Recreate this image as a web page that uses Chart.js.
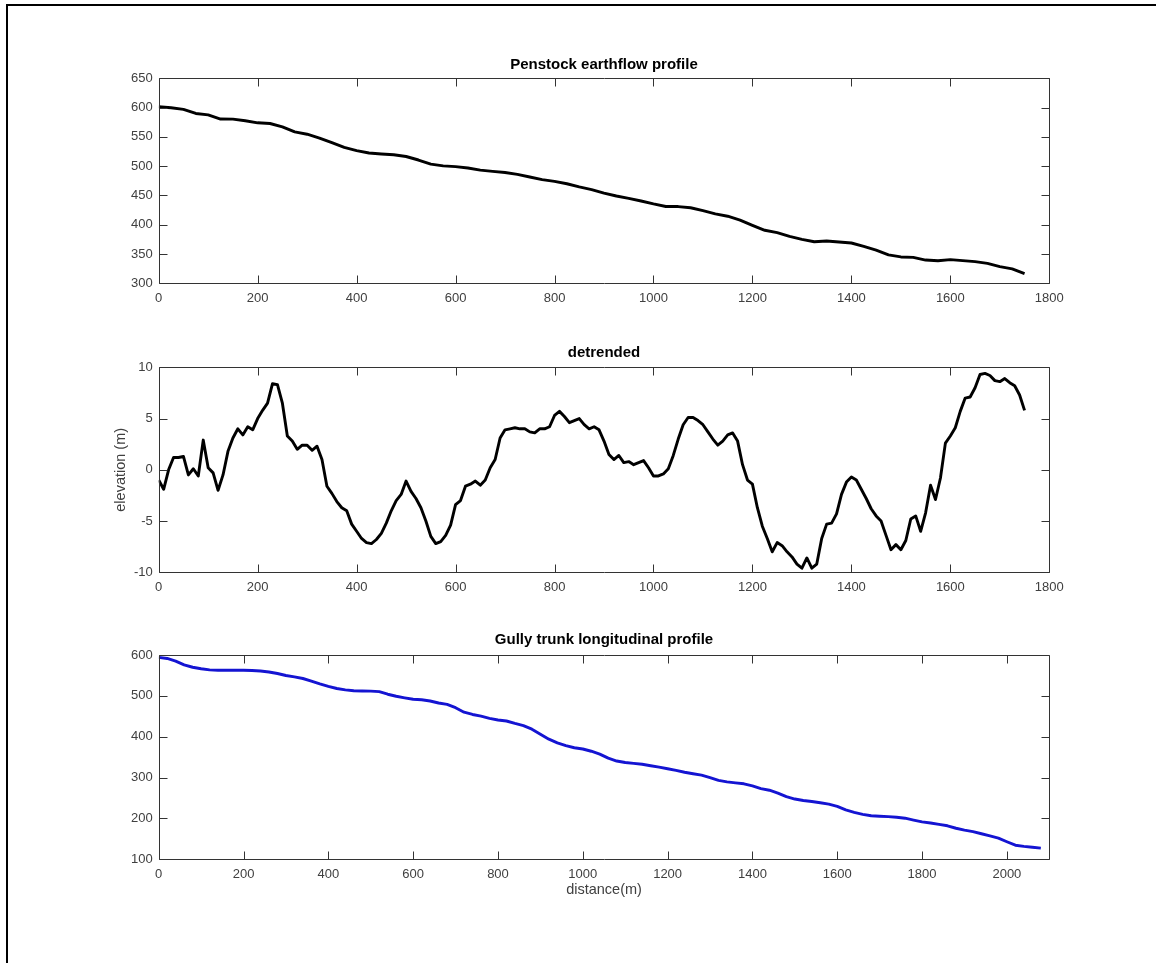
<!DOCTYPE html>
<html lang="en">
<head>
    <meta charset="UTF-8">
    <title>Penstock earthflow profile</title>
    <script src="https://cdn.jsdelivr.net/npm/chart.js"></script>
    <style>
        html, body { margin: 0; width: 1156px; height: 963px; overflow: hidden; background: #fff; }
        #moldura { position: absolute; left: 6px; top: 4px; right: 0; bottom: 0; border-top: 2px solid #000; border-left: 2px solid #000; }
        canvas { position: absolute; left: 0; }
    </style>
</head>
<body>
    <div id="moldura"></div>
    <canvas id="grafico1" width="1156" height="330" style="top:0px"></canvas>
    <canvas id="grafico2" width="1156" height="290" style="top:320px"></canvas>
    <canvas id="grafico3" width="1156" height="353" style="top:610px"></canvas>
</body>
</html>

<script>

// distance step (m) between readings of each series
var penstockStep = 25;
var detrendStep = 10;
var gullyStep = 20;

// Penstock earthflow profile, elevation every 25 m
var penstockElev = [
    601.5, 599.8, 597, 590, 587.5, 580.5, 580.3, 577.5, 574, 572.8,
    567, 558.5, 554.5, 548, 540, 532, 526.5, 522.5, 520.8, 519.5,
    516.5, 510.5, 503.5, 500.4, 499.2, 496.8, 493.2, 491, 489.2, 486,
    481.5, 477, 474, 470, 464.5, 460, 454, 449, 445, 440.5,
    435.5, 431.2, 431, 429, 424, 418.5, 414.5, 408, 399, 390.5,
    386.5, 380, 375, 371, 372.3, 370.5, 368.8, 363, 356.5, 348.5,
    345, 344.2, 339.7, 338.5, 340.5, 338.8, 337, 334, 328.5, 324.5,
    316.5
];

// detrended elevation every 10 m
var detrended = [
    -1.0, -1.9, 0.0, 1.2, 1.2, 1.3, -0.5, 0.1, -0.6, 2.9,
    0.2, -0.3, -2.0, -0.5, 1.8, 3.1, 4.0, 3.4, 4.2, 3.9,
    5.0, 5.8, 6.5, 8.4, 8.3, 6.5, 3.3, 2.8, 2.0, 2.4,
    2.4, 1.9, 2.3, 1.0, -1.6, -2.3, -3.1, -3.7, -4.0, -5.3,
    -6.0, -6.7, -7.1, -7.2, -6.8, -6.2, -5.2, -4.0, -3.0, -2.4,
    -1.1, -2.1, -2.8, -3.7, -5.0, -6.5, -7.2, -7.0, -6.4, -5.4,
    -3.4, -3.0, -1.6, -1.4, -1.1, -1.5, -1.0, 0.2, 1.0, 3.1,
    3.9, 4.0, 4.1, 4.0, 4.0, 3.7, 3.6, 4.0, 4.0, 4.2,
    5.3, 5.7, 5.2, 4.6, 4.8, 5.0, 4.4, 4.0, 4.2, 3.9,
    2.8, 1.5, 1.0, 1.4, 0.7, 0.8, 0.5, 0.7, 0.9, 0.2,
    -0.6, -0.6, -0.4, 0.1, 1.4, 3.0, 4.4, 5.1, 5.1, 4.8,
    4.4, 3.7, 3.0, 2.4, 2.8, 3.4, 3.6, 2.8, 0.5, -1.0,
    -1.4, -3.7, -5.5, -6.7, -8.0, -7.1, -7.4, -8.0, -8.5, -9.2,
    -9.6, -8.6, -9.6, -9.2, -6.7, -5.3, -5.2, -4.3, -2.4, -1.2,
    -0.7, -1.0, -1.9, -2.8, -3.8, -4.5, -5.0, -6.4, -7.8, -7.3,
    -7.8, -6.9, -4.8, -4.5, -6.0, -4.2, -1.5, -2.9, -0.8, 2.6,
    3.3, 4.1, 5.7, 7.0, 7.1, 8.0, 9.3, 9.4, 9.2, 8.7,
    8.6, 8.9, 8.5, 8.2, 7.3, 5.8
];

// Gully trunk longitudinal profile, elevation every 20 m
var gullyElev = [
    594.3, 591.5, 585, 576, 570, 566.3, 563.5, 562.8, 562.5, 562.5,
    562.5, 562, 560.8, 558.5, 554.7, 549.8, 546.5, 542.5, 536.3, 529.5,
    523.3, 518, 514.7, 512.6, 512, 511.6, 510.4, 504, 499, 495.2,
    491.6, 490.5, 487.5, 482.5, 479, 471, 460, 454.5, 450.5, 445,
    441, 438.5, 432.5, 427, 418.5, 406, 394, 385, 378, 373,
    370, 364.5, 357.5, 347.5, 340.5, 337, 334.8, 332.5, 329, 325.5,
    321.5, 317.5, 313, 309.5, 306, 300, 293.2, 289.5, 287, 284.8,
    279.5, 273, 269, 262, 253.5, 247.5, 244, 241.5, 238.5, 235,
    229.5, 221, 215, 210, 206.5, 205.5, 204.5, 202.8, 200.6, 196,
    191.5, 188.8, 185.5, 182, 176, 171.5, 167.8, 162.5, 157.5, 152,
    143, 134.5, 131.5, 129.5, 127.3
];

// tick labels
var xTicks1800 = [0, 200, 400, 600, 800, 1000, 1200, 1400, 1600, 1800];
var xTicks2100 = [0, 200, 400, 600, 800, 1000, 1200, 1400, 1600, 1800, 2000];
var yTicksPenstock = [300, 350, 400, 450, 500, 550, 600, 650];
var yTicksDetrend = [-10, -5, 0, 5, 10];
var yTicksGully = [100, 200, 300, 400, 500, 600];

Chart.defaults.font.family = '"Liberation Sans", Arial, Helvetica, sans-serif';

var corEixo = '#333333';
var corTexto = '#404040';

// box around the plot area with inward ticks on all four sides
var caixaEixos = {
    id: 'caixaEixos',
    afterDatasetsDraw: function (chart) {
        var ctx = chart.ctx;
        var a = chart.chartArea;
        var sx = chart.scales.x;
        var sy = chart.scales.y;
        var l = Math.round(a.left) + 0.5, r = Math.round(a.right) + 0.5;
        var t = Math.round(a.top) + 0.5, b = Math.round(a.bottom) + 0.5;
        var tam = 8;
        ctx.save();
        ctx.strokeStyle = corEixo;
        ctx.lineWidth = 1;
        ctx.beginPath();
        ctx.rect(l, t, r - l, b - t);
        sx.ticks.forEach(function (tk) {
            var px = Math.round(sx.getPixelForValue(tk.value)) + 0.5;
            ctx.moveTo(px, b); ctx.lineTo(px, b - tam);
            ctx.moveTo(px, t); ctx.lineTo(px, t + tam);
        });
        sy.ticks.forEach(function (tk) {
            var py = Math.round(sy.getPixelForValue(tk.value)) + 0.5;
            ctx.moveTo(l, py); ctx.lineTo(l + tam, py);
            ctx.moveTo(r, py); ctx.lineTo(r - tam, py);
        });
        ctx.stroke();
        ctx.restore();
    }
};

function montarPontos(valores, passo) {
    return valores.map(function (v, i) { return { x: i * passo, y: v }; });
}

function criarGrafico(idCanvas, cfg) {
    var config = {
        type: 'line',
        data: {
            datasets: [{
                data: montarPontos(cfg.valores, cfg.passo),
                borderColor: cfg.cor,
                borderWidth: 2.9,
                borderJoinStyle: 'round',
                pointRadius: 0,
                tension: 0,
                fill: false
            }]
        },
        options: {
            responsive: false,
            animation: false,
            events: [],
            layout: { padding: { left: 0, right: 106.7, top: cfg.padTopo, bottom: cfg.padBase } },
            plugins: {
                legend: { display: false },
                tooltip: { enabled: false },
                title: {
                    display: true,
                    text: cfg.titulo,
                    fullSize: false,
                    color: '#000',
                    font: { size: 15, weight: 'bold' },
                    padding: { top: 0, bottom: cfg.padTitulo }
                }
            },
            scales: {
                x: {
                    type: 'linear',
                    min: cfg.xMin,
                    max: cfg.xMax,
                    afterBuildTicks: function (s) { s.ticks = cfg.xTicks.map(function (v) { return { value: v }; }); },
                    afterFit: function (s) { s.height = cfg.alturaX; },
                    grid: { display: false, drawTicks: false },
                    border: { display: false },
                    ticks: {
                        color: corTexto, font: { size: 13 }, padding: 7,
                        maxRotation: 0, autoSkip: false,
                        callback: function (v) { return String(v); }
                    },
                    title: cfg.tituloX ? {
                        display: true, text: cfg.tituloX, color: corTexto,
                        font: { size: 14.5 }, padding: { top: 0, bottom: 5.6 }
                    } : { display: false }
                },
                y: {
                    type: 'linear',
                    min: cfg.yMin,
                    max: cfg.yMax,
                    afterBuildTicks: function (s) { s.ticks = cfg.yTicks.map(function (v) { return { value: v }; }); },
                    afterFit: function (s) { s.width = 158.7; },
                    grid: { display: false, drawTicks: false },
                    border: { display: false },
                    ticks: {
                        color: corTexto, font: { size: 13 }, padding: 6,
                        autoSkip: false,
                        callback: function (v) { return String(v); }
                    },
                    title: cfg.tituloY ? {
                        display: true, text: cfg.tituloY, color: corTexto,
                        font: { size: 14.5 }, padding: { top: 112, bottom: 0 }
                    } : { display: false }
                }
            }
        },
        plugins: [caixaEixos]
    };
    return new Chart(document.getElementById(idCanvas), config);
}

criarGrafico('grafico1', {
    valores: penstockElev, passo: penstockStep, cor: '#000',
    titulo: 'Penstock earthflow profile',
    xMin: 0, xMax: 1800, xTicks: xTicks1800,
    yMin: 300, yMax: 650, yTicks: yTicksPenstock,
    padTopo: 55.8, padTitulo: 4.5, padBase: 16.7, alturaX: 30
});

criarGrafico('grafico2', {
    valores: detrended, passo: detrendStep, cor: '#000',
    titulo: 'detrended', tituloY: 'elevation (m)',
    xMin: 0, xMax: 1800, xTicks: xTicks1800,
    yMin: -10, yMax: 10, yTicks: yTicksDetrend,
    padTopo: 24.1, padTitulo: 5.2, padBase: 7.7, alturaX: 30
});

criarGrafico('grafico3', {
    valores: gullyElev, passo: gullyStep, cor: '#1414d2',
    titulo: 'Gully trunk longitudinal profile', tituloX: 'distance(m)',
    xMin: 0, xMax: 2100, xTicks: xTicks2100,
    yMin: 100, yMax: 600, yTicks: yTicksGully,
    padTopo: 20.8, padTitulo: 6.2, padBase: 58.7, alturaX: 45
});

</script>
